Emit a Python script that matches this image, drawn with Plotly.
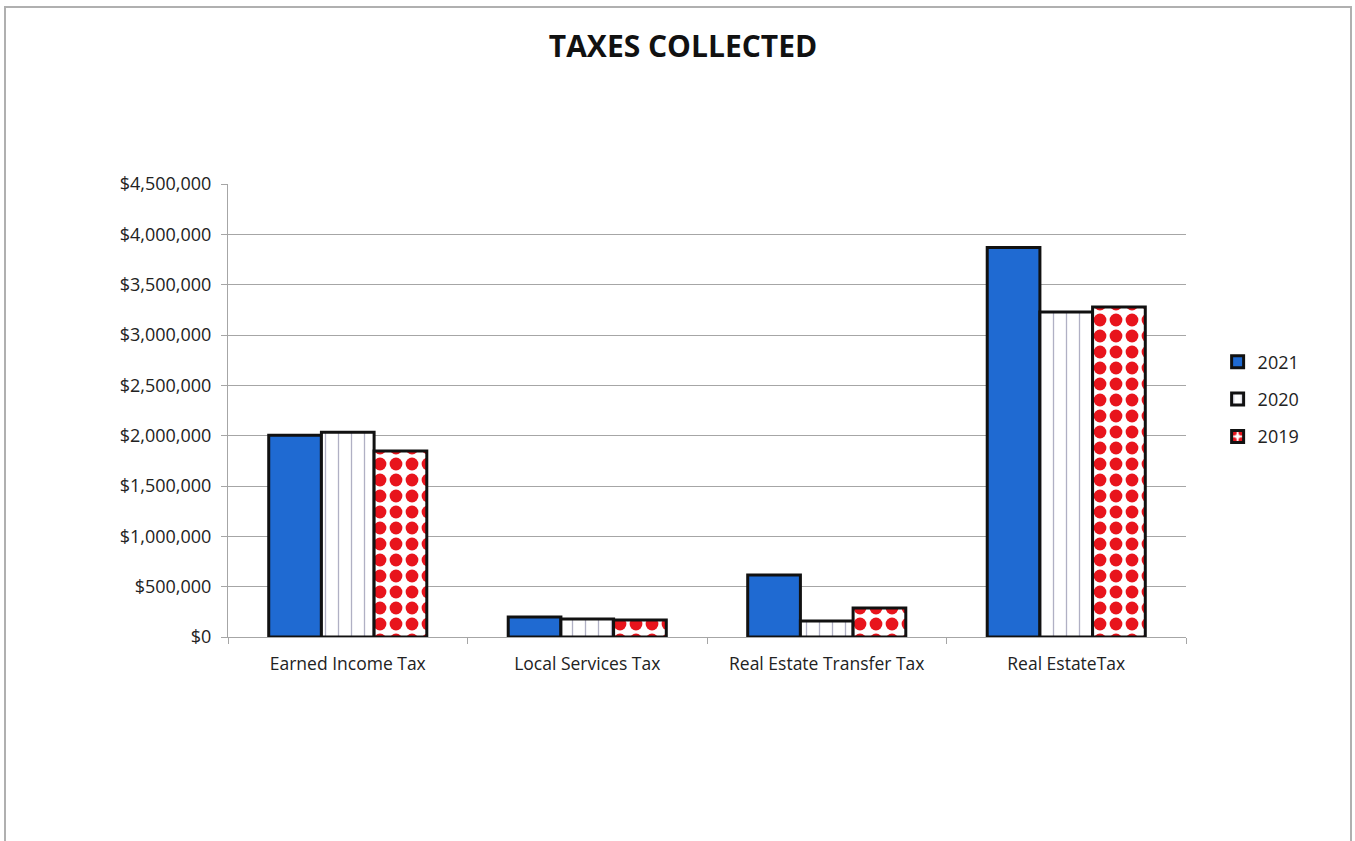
import plotly.graph_objects as go

categories = ["Earned Income Tax", "Local Services Tax", "Real Estate Transfer Tax", "Real EstateTax"]
years = ["2021", "2020", "2019"]
values_2021 = [2005000, 198000, 615000, 3870000]
values_2020 = [2035000, 178000, 158000, 3228000]
values_2019 = [1848000, 168000, 288000, 3278000]
y_ticks = [0, 500000, 1000000, 1500000, 2000000, 2500000, 3000000, 3500000, 4000000, 4500000]

FONT = "'Open Sans', Lato, sans-serif"

fig = go.Figure()
fig.add_trace(go.Bar(
    x=categories, y=values_2021, name=years[0], legendgroup="a",
    marker=dict(color="#1F6AD2", line=dict(color="#111111", width=3)),
))
fig.add_trace(go.Bar(
    x=categories, y=values_2020, name=years[1], legendgroup="b",
    marker=dict(color="white", line=dict(color="#111111", width=3),
                pattern=dict(shape="|", fgcolor="#b0b0c4", bgcolor="white",
                             size=13, solidity=0.1, fillmode="overlay", fgopacity=1)),
))
fig.add_trace(go.Bar(
    x=categories, y=values_2019, name=years[2], legendgroup="c",
    marker=dict(color="white", line=dict(color="#111111", width=3),
                pattern=dict(shape=".", fgcolor="#E8141C", bgcolor="white",
                             size=16, solidity=0.5, fillmode="overlay", fgopacity=1)),
))

fig.update_layout(
    width=1355, height=841,
    margin=dict(l=228, r=169, t=184, b=204),
    paper_bgcolor="white", plot_bgcolor="white",
    barmode="group", bargap=0.34, bargroupgap=0,
    font=dict(family=FONT, size=16, color="#222222"),
    title=dict(text="<b>TAXES COLLECTED</b>", x=683 / 1355, xref="container", xanchor="center",
               y=1 - 46 / 841, yref="container", yanchor="middle",
               font=dict(family=FONT, size=30, color="#111111")),
    legend=dict(x=1.033, y=0.648, xanchor="left", yanchor="top",
                font=dict(family=FONT, size=18, color="#222222"),
                tracegroupgap=11, bgcolor="rgba(0,0,0,0)"),
    showlegend=True,
)
fig.update_yaxes(
    range=[0, 4500000], tickvals=y_ticks, tickformat="$,",
    showgrid=True, gridcolor="#a6a6a6", gridwidth=1,
    showline=True, linecolor="#a6a6a6", linewidth=1,
    ticks="outside", ticklen=6, tickcolor="#a6a6a6", ticklabelstandoff=6,
    tickfont=dict(family=FONT, size=18, color="#222222"),
    zeroline=False,
)
fig.update_xaxes(
    showline=True, linecolor="#a6a6a6", linewidth=1,
    ticks="outside", ticklen=6, tickcolor="#a6a6a6", tickson="boundaries",
    ticklabelstandoff=11,
    tickfont=dict(family=FONT, size=17.5, color="#222222"),
)
# outer chart border
fig.add_shape(type="rect", xref="paper", yref="paper",
              x0=(5 - 228) / 958, x1=(1351 - 228) / 958,
              y0=-0.6, y1=(637 - 7) / 453,
              line=dict(color="#b0b0b0", width=2), fillcolor="rgba(0,0,0,0)", layer="below")

fig.write_html("out.html")
